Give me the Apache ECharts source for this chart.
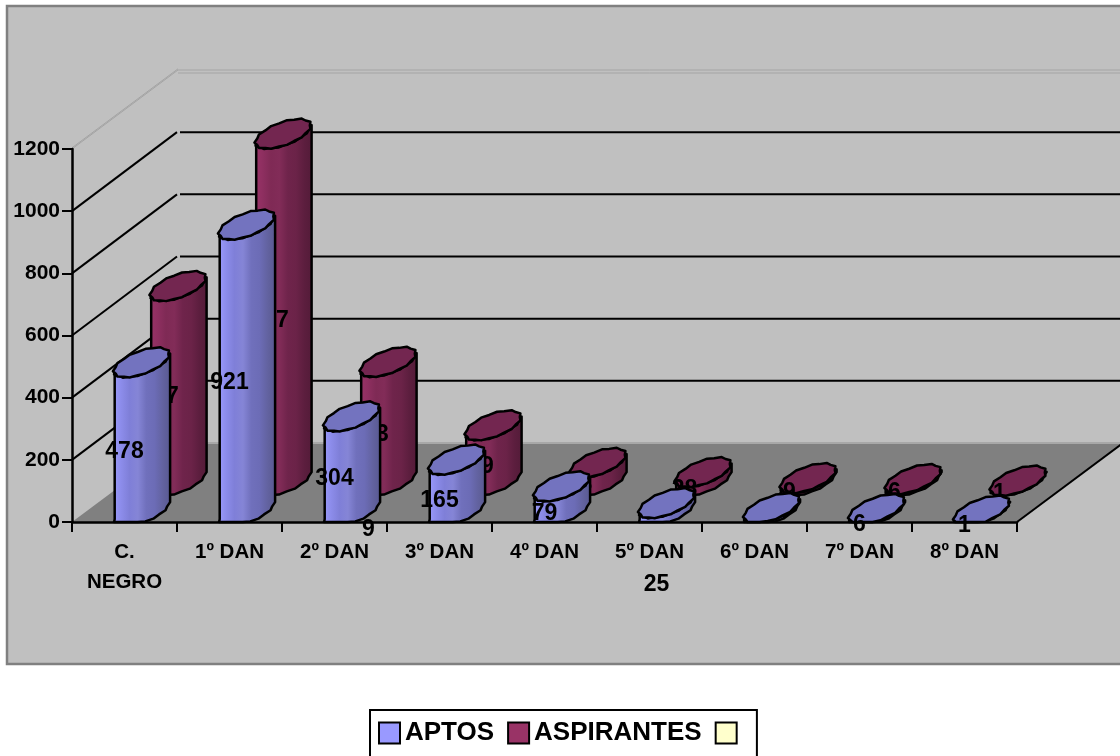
<!DOCTYPE html>
<html><head><meta charset="utf-8">
<style>html,body{margin:0;padding:0;background:#fff;overflow:hidden}#c{width:1120px;height:756px}</style>
<script src="https://cdn.jsdelivr.net/npm/echarts@6/dist/echarts.min.js"></script>
</head><body><div id="c"></div>
<script>
const categories = ['C.\nNEGRO','1º DAN','2º DAN','3º DAN','4º DAN','5º DAN','6º DAN','7º DAN','8º DAN'];
const aptos = [478,921,304,165,79,25,9,6,1];
const aspirantes = [627,1117,383,179,58,28,9,6,1];
const yTicks = [0,200,400,600,800,1000,1200];

const FONT = '"Liberation Sans", Arial, sans-serif';
const grid = {left:72, top:149, width:945, height:373};
const depth = {x:106, y:79};
const labelNudge = {aptos:{5:[7,63], 6:[-386,5]}};
const aptosStops = ['#9C9CFF','#8C8CEA','#7F7FD8','#8585D6','#7070BC','#6C6CB6','#62629F','#58588F'];
const redStops = ['#9A3468','#8E2F60','#7F2A55','#822C58','#6F244B','#6B2348','#5C1E3E','#531B38'];

function gradient(stops){
  return new echarts.graphic.LinearGradient(0,0,1,0,stops.map((c,i)=>({offset:i/(stops.length-1),color:c})));
}
function barRenderer(values, cfg){
  return function(params, api){
    const i = params.dataIndex, v = values[i];
    const p = api.coord([i, v]), z = api.coord([i, 0]);
    const floor = z[1], cx = p[0] + cfg.dx, a = 27.5, k = 8.5, b = 12;
    const topY = p[1] - cfg.dy, baseY = floor - cfg.dy;
    const pt = (cy,t,w) => {
      const r = 1 + w;
      return [cx + a*Math.cos(t)*r, Math.min(floor, cy - k*Math.cos(t)*r - b*Math.sin(t)*r)];
    };
    const ring = [], n = 22;
    for (let j=0;j<n;j++){ ring.push(pt(topY, 2*Math.PI*j/n, j%2?0.04:-0.025)); }
    const side = [];
    const m = 11;
    for (let j=0;j<=m;j++){ side.push(pt(topY, Math.PI+Math.PI*j/m, j%2?0.04:-0.025)); }
    for (let j=m;j>=0;j--){ side.push(pt(baseY, Math.PI+Math.PI*j/m, j%2?0.04:-0.025)); }
    const stroke = {stroke:'#000', lineWidth:2.5, lineJoin:'round'};
    const kids = [
      {type:'polygon', shape:{points:side}, style:Object.assign({fill:gradient(cfg.stops)},stroke)},
      {type:'polygon', shape:{points:ring}, style:Object.assign({fill:cfg.top},stroke)}
    ];
    const nudge = (cfg.nudge && cfg.nudge[i]) || [0,0];
    const midY = floor - cfg.labelLift - (floor - p[1])/2;
    kids.push({type:'text', z2:5, style:{
      text:String(v), x:p[0]+cfg.labelDx+nudge[0], y:midY+nudge[1], align:'center', verticalAlign:'middle',
      font:'bold 23px '+FONT, fill:'#000'}});
    return {type:'group', children:kids};
  };
}
function wallRenderer(params, api){
  const v = yTicks[params.dataIndex];
  const y = api.coord([0, v])[1];
  const L = grid.left, R = grid.left+grid.width;
  const kids = [];
  const seg = (x1,y1,x2,y2,col,w) => kids.push({type:'line', shape:{x1,y1,x2,y2}, style:{stroke:col,lineWidth:w}});
  if (v === 0){
    kids.push({type:'polygon', shape:{points:[[L,y],[R,y],[R+depth.x,y-depth.y],[L+depth.x,y-depth.y]]},
      style:{fill:'#808080', stroke:'none'}});
    seg(R,y,R+depth.x,y-depth.y,'#000',2);
    seg(L+depth.x,y-depth.y,R+depth.x,y-depth.y,'#A8A8A8',2);
  } else if (v === yTicks[yTicks.length-1]){
    [0,3].forEach(o => {
      seg(L,y-o*0.4,L+depth.x,y-depth.y-o*0.4,'#A4A4A4',1);
      seg(L+depth.x,y-depth.y+o,R+depth.x,y-depth.y+o,'#A4A4A4',1);
    });
  } else {
    seg(L,y,L+depth.x-1,y-depth.y,'#000',2);
    seg(L+depth.x+2,y-depth.y,R+depth.x,y-depth.y,'#000',2);
  }
  return {type:'group', children:kids};
}

const chart = echarts.init(document.getElementById('c'), null, {renderer:'canvas'});
chart.setOption({
  animation:false,
  backgroundColor:'#fff',
  graphic:[{type:'rect', z:-10, shape:{x:7,y:6,width:1125,height:658},
    style:{fill:'#C0C0C0', stroke:'#808080', lineWidth:2.5}}],
  grid:grid,
  xAxis:{type:'category', data:categories, z:2,
    axisLine:{show:true,lineStyle:{color:'#000',width:2.5}},
    axisTick:{show:true,length:10,alignWithLabel:false,lineStyle:{color:'#000',width:2}},
    axisLabel:{interval:0,margin:15,fontFamily:FONT,fontWeight:'bold',fontSize:20.5,color:'#000',lineHeight:30}},
  yAxis:{type:'value', min:0, max:1200, interval:200, z:2,
    axisLine:{show:true,lineStyle:{color:'#000',width:2.5}},
    axisTick:{show:true,length:10,lineStyle:{color:'#000',width:2}},
    axisLabel:{margin:12,fontFamily:FONT,fontWeight:'bold',fontSize:21,color:'#000',
      formatter:v=>String(v),padding:[8,0,0,0]},
    splitLine:{show:false}},
  legend:{left:370, top:710, orient:'horizontal', selectedMode:false,
    itemWidth:21,itemHeight:21,itemGap:13,padding:[10,8,40,8],
    borderColor:'#000',borderWidth:2,backgroundColor:'transparent',
    textStyle:{fontFamily:FONT,fontWeight:'bold',fontSize:26,color:'#000'},
    data:[
      {name:'APTOS',icon:'rect',itemStyle:{color:'#9999FF',borderColor:'#000',borderWidth:2}},
      {name:'ASPIRANTES',icon:'rect',itemStyle:{color:'#993366',borderColor:'#000',borderWidth:2}},
      {name:' ',icon:'rect',itemStyle:{color:'#FFFFCC',borderColor:'#000',borderWidth:2}}
    ]},
  series:[
    {type:'custom', name:'walls', z:1, silent:true, data:yTicks.map((v,i)=>[i,v]), renderItem:wallRenderer, encode:{x:0,y:1}},
    {type:'custom', name:'ASPIRANTES', z:3, color:'#993366', silent:true, data:aspirantes.map((v,i)=>[i,v]),
      renderItem:barRenderer(aspirantes,{dx:53.5,dy:41,stops:redStops,top:'#732650',labelDx:35,labelLift:28}), encode:{x:0,y:1}},
    {type:'custom', name:'APTOS', z:4, color:'#9999FF', silent:true, data:aptos.map((v,i)=>[i,v]),
      renderItem:barRenderer(aptos,{dx:17,dy:11,stops:aptosStops,top:'#7373BF',labelDx:0,labelLift:-4,nudge:labelNudge.aptos}), encode:{x:0,y:1}},
    {type:'custom', name:' ', color:'#FFFFCC', silent:true, data:[], renderItem:()=>null}
  ]
});
</script></body></html>
